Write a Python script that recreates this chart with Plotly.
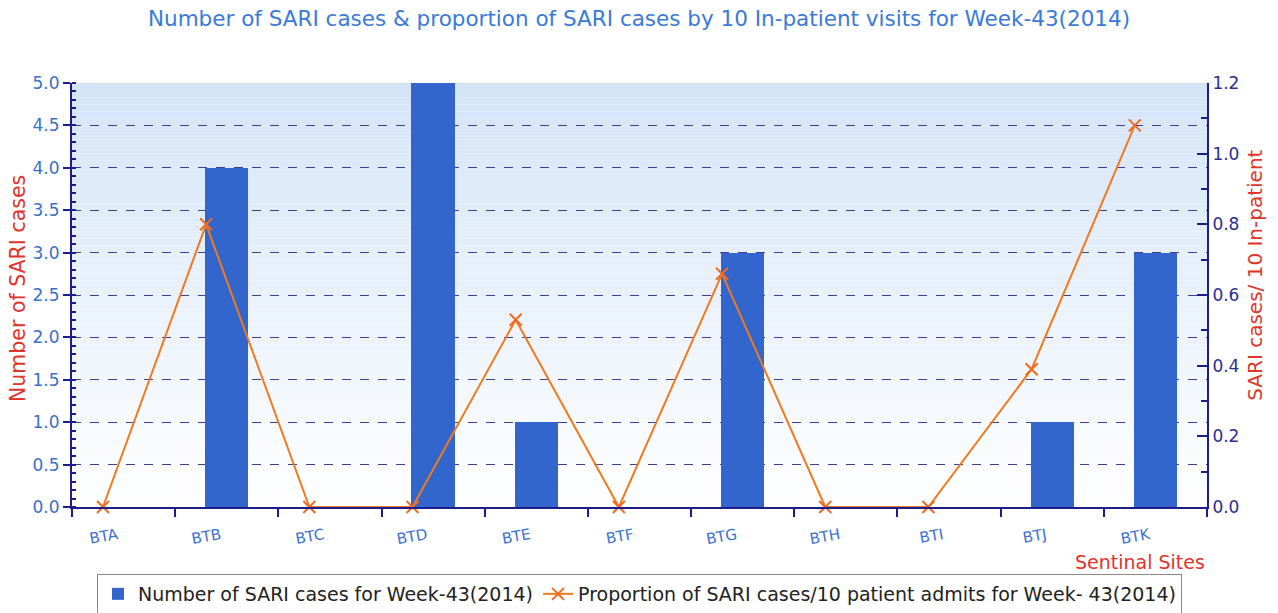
import plotly.graph_objects as go

sites = ["BTA", "BTB", "BTC", "BTD", "BTE", "BTF", "BTG", "BTH", "BTI", "BTJ", "BTK"]
sari_cases = [0, 4, 0, 5, 1, 0, 3, 0, 0, 1, 3]
proportion = [0, 0.80, 0, 0, 0.53, 0, 0.66, 0, 0, 0.39, 1.08]

bar_name = "Number of SARI cases for Week-43(2014)"
line_name = "Proportion of SARI cases/10 patient admits for Week- 43(2014)"
title_text = "Number of SARI cases & proportion of SARI cases by 10 In-patient visits for Week-43(2014)"

idx = list(range(len(sites)))
line_x = [i - 0.2 for i in idx]
label_x = [i - 0.06 for i in idx]

FONT = "DejaVu Sans"
NAVY = "#1c1c8c"
RED = "#e0352b"

fig = go.Figure()
fig.add_trace(go.Bar(
    x=idx, y=sari_cases, name=bar_name, width=0.42,
    marker=dict(color="#3366cc", line=dict(width=0)),
    yaxis="y",
))
fig.add_trace(go.Scatter(
    x=line_x, y=proportion, name=line_name, mode="lines+markers",
    line=dict(color="#f07a1e", width=2),
    marker=dict(symbol="x-thin", size=12, line=dict(color="#f06a20", width=2), color="#f06a20"),
    yaxis="y2", cliponaxis=False,
))

# gradient plot background
N = 60
top = (212, 228, 247)
bot = (255, 255, 255)
shapes = []
for k in range(N):
    t = (k + 0.5) / N
    c = tuple(round(bot[j] + (top[j] - bot[j]) * t) for j in range(3))
    shapes.append(dict(type="rect", xref="x domain", yref="y domain",
                       x0=0, x1=1, y0=k / N, y1=(k + 1) / N,
                       fillcolor="rgb(%d,%d,%d)" % c, line=dict(width=0), layer="below"))

fig.update_layout(
    width=1278, height=613, autosize=False,
    margin=dict(l=72, r=71, t=83, b=106, autoexpand=False),
    paper_bgcolor="white", plot_bgcolor="white",
    font=dict(family=FONT, size=13, color="#222222"),
    title=dict(text=title_text, x=0.5, xref="container", xanchor="center",
               y=1 - 18 / 613, yref="container", yanchor="middle",
               font=dict(family=FONT, size=21.5, color="#3a7ad8")),
    shapes=shapes,
    bargap=0,
    xaxis=dict(
        range=[-0.5, 10.5], tickmode="array", tickvals=label_x, ticktext=sites,
        tickangle=-10, ticks="", showgrid=False, zeroline=False, automargin=False,
        showline=True, linecolor=NAVY, linewidth=2,
        tickfont=dict(family=FONT, size=15, color="#3a70d0"),
        ticklabelstandoff=12,
        minor=dict(tick0=-0.5, dtick=1, ticks="outside", ticklen=8, tickcolor=NAVY, tickwidth=1.5, showgrid=False),
    ),
    yaxis=dict(
        range=[0, 5], dtick=0.5, tickformat=".1f", ticks="outside", ticklen=7,
        tickcolor=NAVY, tickwidth=1.5, automargin=False,
        showline=True, linecolor=NAVY, linewidth=2, zeroline=False,
        showgrid=True, gridcolor="#3e3e96", griddash="dash", gridwidth=1,
        tickfont=dict(family=FONT, size=17, color="#3a6fc9"),
        minor=dict(dtick=0.1, ticks="inside", ticklen=4, tickcolor=NAVY, showgrid=False),
    ),
    yaxis2=dict(
        range=[0, 1.2], dtick=0.2, tickformat=".1f", overlaying="y", side="right",
        ticks="inside", ticklen=10, tickcolor=NAVY, tickwidth=1.5, automargin=False,
        showline=True, linecolor=NAVY, linewidth=2, zeroline=False, showgrid=False,
        tickfont=dict(family=FONT, size=17, color="#2c2c90"),
        minor=dict(dtick=0.1, ticks="inside", ticklen=6, tickcolor=NAVY, showgrid=False),
    ),
    legend=dict(
        orientation="h", x=0.5, xanchor="center",
        y=-0.158, yanchor="top",
        bgcolor="white", bordercolor="#8a8a8a", borderwidth=1,
        font=dict(family=FONT, size=19, color="#222222"),
        traceorder="normal", itemwidth=30,
    ),
    annotations=[
        dict(text="Sentinal Sites", xref="paper", yref="paper",
             x=1.0, y=-0.13, xanchor="right", yanchor="middle", showarrow=False,
             font=dict(family=FONT, size=19, color=RED)),
        dict(text="Number of SARI cases", xref="paper", yref="paper",
             x=-0.0476, y=0.5165, xanchor="center", yanchor="middle", textangle=-90,
             showarrow=False, font=dict(family=FONT, size=20.5, color=RED)),
        dict(text="SARI cases/ 10 In-patient", xref="paper", yref="paper",
             x=1.042, y=0.547, xanchor="center", yanchor="middle", textangle=-90,
             showarrow=False, font=dict(family=FONT, size=20, color=RED)),
    ],
)

fig.write_html("out.html", config={"displayModeBar": False},
               post_script="document.body.style.margin='0';")
